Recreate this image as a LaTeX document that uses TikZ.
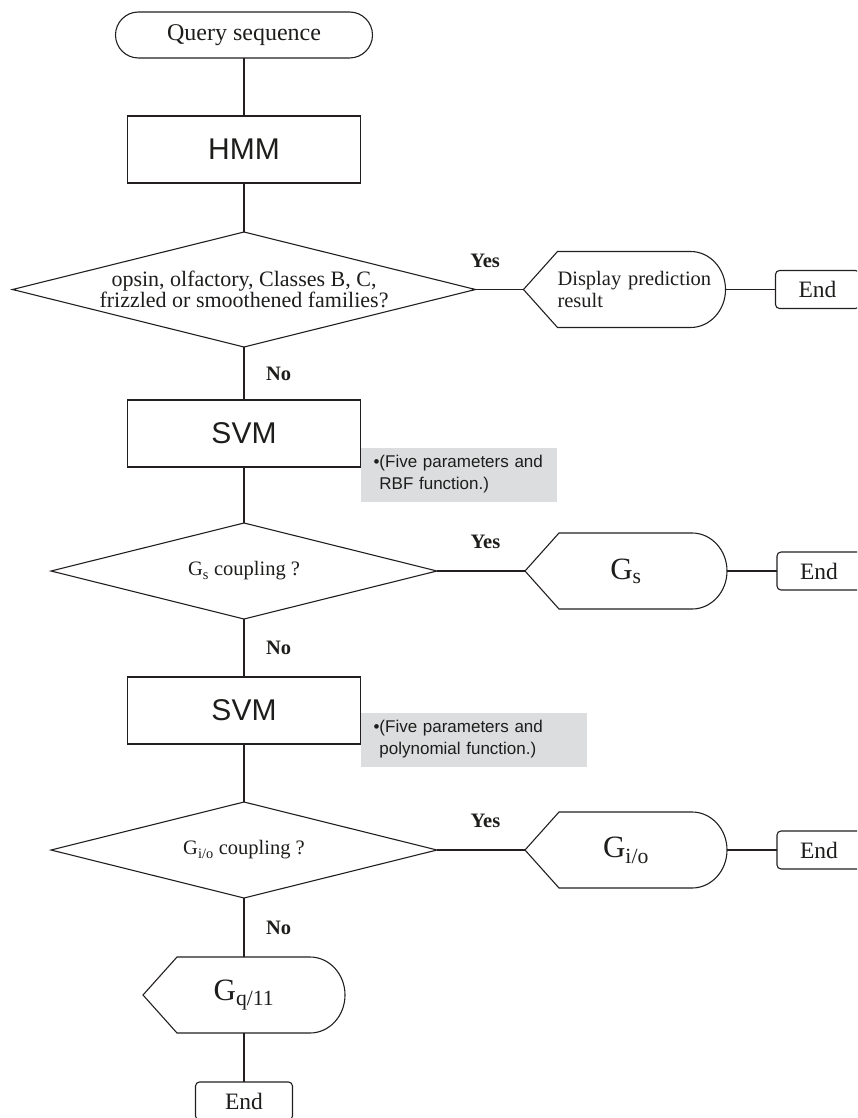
\documentclass[tikz,border=0pt]{standalone}
\usepackage{fontspec}
\setmainfont{Liberation Serif}
\setsansfont{Liberation Sans}
\usepackage{tikz}
\usetikzlibrary{positioning,shapes.geometric}
\definecolor{colorline}{RGB}{35,31,32}
\definecolor{colornote}{RGB}{219,221,223}
\definecolor{colortext}{RGB}{29,29,27}

% outline of a display box: pointed left, rounded right
\newcommand{\dispoutline}[1]{%
  \draw[line] (#1.west) -- ([xshift=34pt]#1.north west) -- ([xshift=-35pt]#1.north east)
    arc[start angle=90,end angle=-90,x radius=35pt,y radius=38pt]
    -- ([xshift=34pt]#1.south west) -- cycle;}

\begin{document}
\begin{tikzpicture}[
    x=1pt, y=1pt,
    node distance = 50pt,
    line/.style={draw=colorline,line width=1.1pt},
    base/.style={text=colortext,inner sep=0pt,outer sep=0pt,align=center},
    terminal/.style={base,line,rounded corners=23pt,minimum width=257pt,minimum height=46pt,font={\fontsize{24}{26}\selectfont}},
    process/.style={base,line,rectangle,minimum width=233pt,minimum height=67pt,font={\sffamily\fontsize{30}{32}\selectfont}},
    decision/.style={base,line,diamond,aspect=4,minimum width=386pt,minimum height=96pt,font={\fontsize{20.5}{19}\selectfont}},
    dispbox/.style={base,minimum width=202pt,minimum height=76pt,font={\fontsize{31}{32}\selectfont}},
    endbox/.style={base,line,rounded corners=4pt,minimum width=97pt,minimum height=38pt,font={\fontsize{23.5}{25}\selectfont}},
    note/.style={base,fill=colornote,align=left,inner xsep=13pt,minimum height=54pt,font={\sffamily\fontsize{17}{22}\selectfont}},
    txt/.style={base,font={\bfseries\fontsize{20.5}{22}\selectfont}},
]
    \useasboundingbox (0,0) rectangle (857,-1118);
    \clip (0,0) rectangle (857,-1118);

    % Nodes
    \node[process] (hmm) at (244,-149.5) {HMM};
    \node[terminal,above=58pt of hmm] (query) {Query sequence};
    \node[decision,minimum width=463pt,minimum height=115pt,font={\fontsize{22}{19.5}\selectfont},below=49pt of hmm] (famtest) {opsin, olfactory, Classes B, C,\\frizzled or smoothened families?};
    \node[dispbox,text width=134pt,align=left,font={\fontsize{20.5}{22}\selectfont},right=48pt of famtest] (display) {\mbox{Display prediction}\\result};
    \node[endbox,minimum width=84pt,right=50pt of display] (end1) {End};

    \node[process,below=53pt of famtest] (svm1) {SVM};
    \node[note,text width=170pt,below right=14pt and 0pt of svm1.east] (note1) {•(Five parameters and\\\phantom{•}RBF function.)};
    \node[decision,below=56pt of svm1] (gstest) {G\textsubscript{s} coupling ?};
    \node[dispbox,right=88pt of gstest] (gs) {G\textsubscript{s}};
    \node[endbox,minimum width=84pt,right=50pt of gs] (end2) {End};

    \node[process,below=58pt of gstest] (svm2) {SVM};
    \node[note,text width=200pt,below right=2pt and 0pt of svm2.east] (note2) {•(Five parameters and\\\phantom{•}polynomial function.)};
    \node[decision,below=58pt of svm2] (giotest) {G\textsubscript{i/o} coupling ?};
    \node[dispbox,right=88pt of giotest] (gio) {G\textsubscript{i/o}};
    \node[endbox,minimum width=84pt,right=50pt of gio] (end3) {End};

    \node[dispbox,below=59pt of giotest] (gq) {G\textsubscript{q/11}};
    \node[endbox,below=49pt of gq] (end4) {End};

    % Display shapes
    \dispoutline{display}
    \dispoutline{gs}
    \dispoutline{gio}
    \dispoutline{gq}

    % Lines
    \draw[line] (query) -- (hmm);
    \draw[line] (hmm) -- (famtest);
    \draw[line] (famtest.east) -- node[txt,above=22pt,pos=0.2] {Yes} (display.west);
    \draw[line] (display.east) -- (end1.west);
    \draw[line] (famtest.south) -- node[txt,right=22pt] {No} (svm1.north);
    \draw[line] (svm1) -- (gstest);
    \draw[line] (gstest.east) -- node[txt,above=22pt,pos=0.55] {Yes} (gs.west);
    \draw[line] (gs.east) -- (end2.west);
    \draw[line] (gstest.south) -- node[txt,right=22pt] {No} (svm2.north);
    \draw[line] (svm2) -- (giotest);
    \draw[line] (giotest.east) -- node[txt,above=22pt,pos=0.55] {Yes} (gio.west);
    \draw[line] (gio.east) -- (end3.west);
    \draw[line] (giotest.south) -- node[txt,right=22pt] {No} (gq.north);
    \draw[line] (gq) -- (end4);

\end{tikzpicture}
\end{document}
